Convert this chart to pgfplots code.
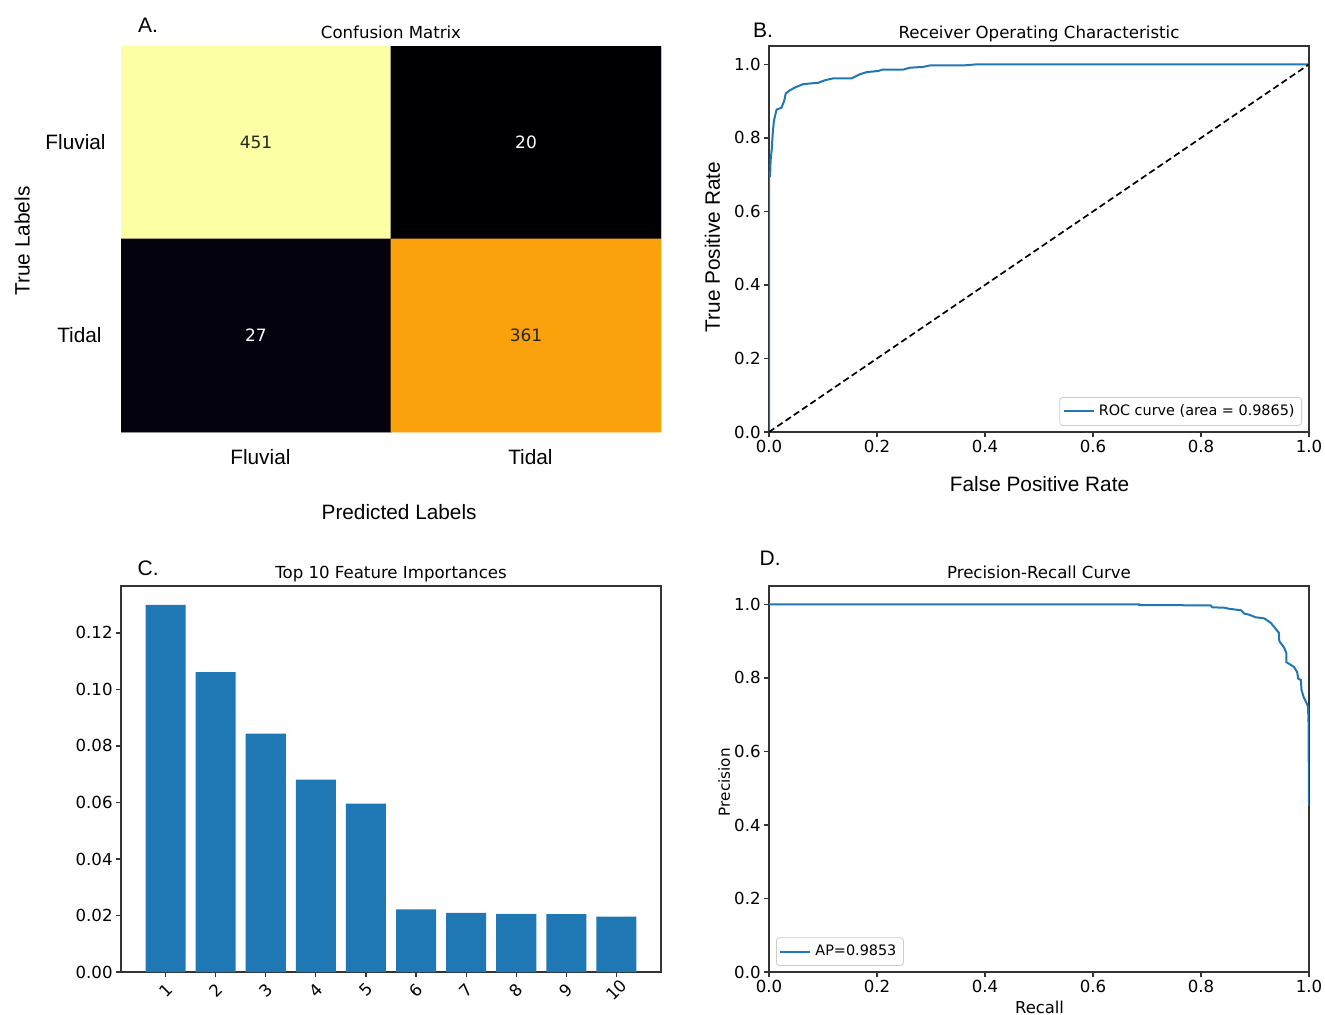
\documentclass[border=0pt]{standalone}
\usepackage{fontspec}
\setmainfont{DejaVu Sans}
\newfontfamily\arial{Liberation Sans}
\usepackage{pgfplots}
\pgfplotsset{compat=1.18}
\definecolor{mblue}{HTML}{1F77B4}
\tikzset{letter/.style={anchor=base west, inner sep=0pt, font=\arial\fontsize{10.5}{12}\selectfont}}
\pgfplotsset{
  colormap={inferno}{rgb255=(0,0,4) rgb255=(22,11,57) rgb255=(66,10,104) rgb255=(106,23,110) rgb255=(147,38,103) rgb255=(188,55,84) rgb255=(221,81,58) rgb255=(243,120,25) rgb255=(252,165,10) rgb255=(246,215,70) rgb255=(252,255,164)},
  panel/.style={scale only axis, width=270pt, height=193pt, anchor=south west,
    clip mode=individual,
    /pgf/number format/assume math mode=true,
    tick label style={font=\fontsize{8.3}{9}\selectfont, inner sep=1.5pt},
    title style={font=\fontsize{8.3}{9}\selectfont, at={(0.5,1)}, anchor=base, yshift=-2.2pt},
    axis line style={black!80, line width=0.6pt},
    tick style={black!80, line width=0.6pt},
    tick align=outside, major tick length=2.5pt,
    xtick pos=bottom, ytick pos=left,
  },
}
\pgfplotstableread{
x y c
0 0 451
1 0 20
0 1 27
1 1 361
}\cmtab
\pgfplotstableread{
f v
1 0.1299
2 0.1061
3 0.0844
4 0.0681
5 0.0596
6 0.0222
7 0.0209
8 0.0206
9 0.0205
10 0.0196
}\fitab
\pgfplotstableread{
fpr tpr
0 0
0 0.692
0.002 0.696
0.003 0.740
0.005 0.768
0.007 0.814
0.009 0.846
0.014 0.877
0.023 0.882
0.028 0.900
0.031 0.921
0.039 0.930
0.051 0.939
0.063 0.946
0.076 0.948
0.091 0.950
0.104 0.957
0.119 0.962
0.153 0.962
0.168 0.973
0.181 0.979
0.202 0.982
0.211 0.986
0.249 0.986
0.261 0.991
0.285 0.993
0.298 0.997
0.359 0.997
0.384 1.0
1.0 1.0
}\roctab
\pgfplotstableread{
r p
0 1.0
0.686 1.0
0.686 0.998
0.766 0.998
0.769 0.997
0.818 0.997
0.821 0.992
0.843 0.991
0.852 0.988
0.874 0.984
0.880 0.975
0.889 0.972
0.901 0.965
0.917 0.962
0.929 0.950
0.938 0.934
0.944 0.923
0.945 0.900
0.954 0.882
0.958 0.868
0.958 0.843
0.972 0.830
0.978 0.816
0.980 0.798
0.985 0.794
0.986 0.768
0.990 0.748
0.994 0.736
0.998 0.723
0.999 0.687
1.0 0.452
}\prtab
\begin{document}
\begin{tikzpicture}
\useasboundingbox (0,0) rectangle (662.5pt,-507.5pt);
% A: confusion matrix
\begin{axis}[panel, at={(60.5pt,-216pt)},
  title={Confusion Matrix},
  xmin=-0.5, xmax=1.5, ymin=-0.5, ymax=1.5, y dir=reverse,
  axis line style={draw=none}, tick style={draw=none},
  xtick={0,1}, ytick={0,1},
  xticklabels={Fluvial,Tidal}, yticklabels={Fluvial,{Tidal\kern2pt}},
  xticklabel style={font=\arial\fontsize{10.4}{12}\selectfont, anchor=center, xshift=2.2pt, yshift=-10pt},
  yticklabel style={font=\arial\fontsize{10.4}{12}\selectfont, anchor=east, inner sep=0pt, xshift=-5pt},
  xlabel={Predicted Labels}, ylabel={True Labels},
  xlabel style={font=\arial\fontsize{10.4}{12}\selectfont, at={(axis description cs:0.515,-0.207)}, anchor=center},
  ylabel style={font=\arial\fontsize{10.4}{12}\selectfont, at={(axis description cs:-0.183,0.495)}, anchor=center},
  point meta min=20, point meta max=451,
]
\addplot[matrix plot*, mesh/cols=2, point meta=explicit, draw=none] table[x=x, y=y, meta=c] {\cmtab};
\node[font=\fontsize{8.5}{10}\selectfont, text=black!85] at (axis cs:0,0) {451};
\node[font=\fontsize{8.5}{10}\selectfont, text=white] at (axis cs:1,0) {20};
\node[font=\fontsize{8.5}{10}\selectfont, text=white] at (axis cs:0,1) {27};
\node[font=\fontsize{8.5}{10}\selectfont, text=black!85] at (axis cs:1,1) {361};
\node[letter] at (axis description cs:0.031,1.036) {A.};
\end{axis}
% B: ROC
\begin{axis}[panel, at={(384.5pt,-216pt)},
  title={Receiver Operating Characteristic},
  xmin=0, xmax=1, ymin=0, ymax=1.05,
  xtick={0,0.2,0.4,0.6,0.8,1.0}, ytick={0,0.2,0.4,0.6,0.8,1.0},
  xticklabel style={/pgf/number format/.cd, fixed, fixed zerofill, precision=1},
  yticklabel style={/pgf/number format/.cd, fixed, fixed zerofill, precision=1},
  xlabel={False Positive Rate}, ylabel={True Positive Rate},
  xlabel style={font=\arial\fontsize{10.4}{12}\selectfont, at={(axis description cs:0.501,-0.135)}, anchor=center},
  ylabel style={font=\arial\fontsize{10.4}{12}\selectfont, at={(axis description cs:-0.105,0.479)}, anchor=center},
  legend style={at={(0.987,0.016)}, anchor=south east, font=\fontsize{7.2}{8}\selectfont, draw=black!20, rounded corners=1.5pt, inner sep=1.5pt},
  legend cell align=left,
  legend image code/.code={\draw[#1] (0pt,0pt) -- (15pt,0pt);},
]
\addplot[mblue, line width=1pt] table[x=fpr, y=tpr] {\roctab};
\addlegendentry{ROC curve (area = 0.9865)}
\addplot[black, line width=0.85pt, dash pattern=on 3.2pt off 1.8pt, forget plot] coordinates {(0,0) (1,1)};
\node[letter] at (axis description cs:-0.030,1.021) {B.};
\end{axis}
% C: feature importances
\begin{axis}[panel, at={(60.5pt,-486pt)},
  title={Top 10 Feature Importances},
  xmin=0.11, xmax=10.89, ymin=0, ymax=0.1366,
  ybar, bar width=0.8,
  xtick={1,2,3,4,5,6,7,8,9,10},
  ytick={0,0.02,0.04,0.06,0.08,0.10,0.12},
  yticklabel style={/pgf/number format/.cd, fixed, fixed zerofill, precision=2},
  xticklabel style={rotate=45, anchor=center},
  xticklabel shift=6.5pt,
  scaled y ticks=false,
]
\addplot[fill=mblue, draw=none] table[x=f, y=v] {\fitab};
\node[letter] at (axis description cs:0.030,1.026) {C.};
\end{axis}
% D: precision-recall
\begin{axis}[panel, at={(384.5pt,-486pt)},
  title={Precision-Recall Curve},
  xmin=0, xmax=1, ymin=0, ymax=1.05,
  xtick={0,0.2,0.4,0.6,0.8,1.0}, ytick={0,0.2,0.4,0.6,0.8,1.0},
  xticklabel style={/pgf/number format/.cd, fixed, fixed zerofill, precision=1},
  yticklabel style={/pgf/number format/.cd, fixed, fixed zerofill, precision=1},
  xlabel={Recall}, ylabel={Precision},
  xlabel style={font=\fontsize{8.2}{9}\selectfont, at={(axis description cs:0.501,-0.091)}, anchor=center},
  ylabel style={font=\fontsize{7.6}{9}\selectfont, at={(axis description cs:-0.083,0.492)}, anchor=center},
  legend style={at={(0.013,0.016)}, anchor=south west, font=\fontsize{7.2}{8}\selectfont, draw=black!20, rounded corners=1.5pt, inner sep=1.5pt},
  legend cell align=left,
  legend image code/.code={\draw[#1] (0pt,0pt) -- (15pt,0pt);},
]
\addplot[mblue, line width=1pt] table[x=r, y=p] {\prtab};
\addlegendentry{AP=0.9853}
\node[letter] at (axis description cs:-0.018,1.054) {D.};
\end{axis}
\end{tikzpicture}
\end{document}
